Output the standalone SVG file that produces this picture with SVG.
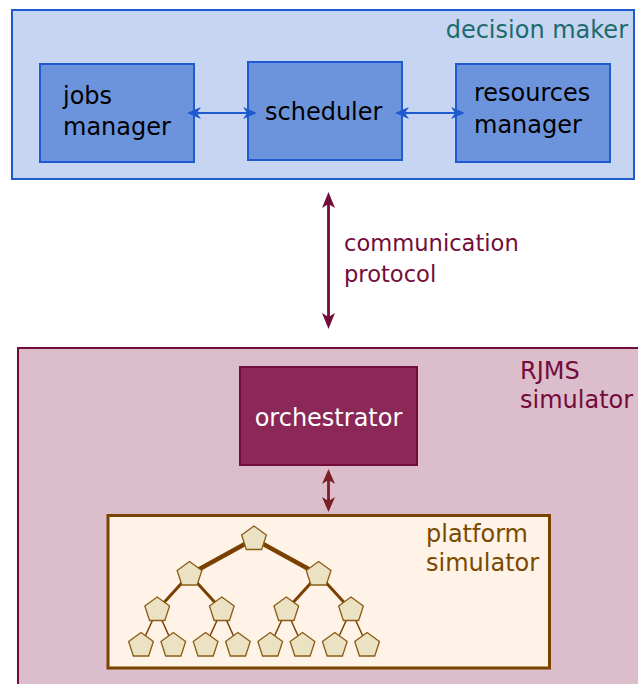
<svg xmlns="http://www.w3.org/2000/svg" width="638" height="684" viewBox="0 0 638 684">
<defs>
<style>
text{font-family:"DejaVu Sans","Noto Sans",sans-serif;font-size:24px}
.blue{fill:#6c94dd;stroke:#1f5bcf;stroke-width:2}
.pent{fill:#ebe2c4;stroke:#8b5c14;stroke-width:1.3}
.edge{stroke:#7a4000;fill:none}
</style>
<marker id="ab" markerUnits="userSpaceOnUse" viewBox="-15 -7 16 14" refX="0" refY="0" markerWidth="16" markerHeight="14" orient="auto-start-reverse"><path d="M0,0 L-14,-6 L-10,0 L-14,6 Z" fill="#1f5bcf"/></marker>
<marker id="ap" markerUnits="userSpaceOnUse" viewBox="-17 -7 18 14" refX="0" refY="0" markerWidth="18" markerHeight="14" orient="auto-start-reverse"><path d="M0,0 L-16,-6.5 L-12,0 L-16,6.5 Z" fill="#730c3b"/></marker>
<marker id="ar" markerUnits="userSpaceOnUse" viewBox="-17 -7 18 14" refX="0" refY="0" markerWidth="18" markerHeight="14" orient="auto-start-reverse"><path d="M0,0 L-15,-6 L-11,0 L-15,6 Z" fill="#7a1f25"/></marker>
<polygon id="pg" points="0,-13 12.36,-4.02 7.64,10.52 -7.64,10.52 -12.36,-4.02"/>
</defs>
<rect width="638" height="684" fill="#ffffff"/>
<g id="decision-maker">
<rect x="12" y="10" width="622" height="169" fill="#c6d5f1" stroke="#1f5bcf" stroke-width="2"/>
<text x="628" y="38" text-anchor="end" fill="#1d6b6e">decision maker</text>
</g>
<g id="jobs-manager">
<rect class="blue" x="40" y="64" width="154" height="98"/>
<text x="63" y="104" fill="#000">jobs</text>
<text x="63" y="135" fill="#000">manager</text>
</g>
<g id="scheduler">
<rect class="blue" x="248" y="62" width="154" height="98"/>
<text x="265" y="120" fill="#000">scheduler</text>
</g>
<g id="resources-manager">
<rect class="blue" x="456" y="64" width="154" height="98"/>
<text x="474" y="101" fill="#000">resources</text>
<text x="474" y="133" fill="#000">manager</text>
</g>
<g id="rjms-simulator">
<rect x="18" y="348" width="625" height="345" fill="#dcbdcc" stroke="#730c3b" stroke-width="2"/>
<text x="520" y="379" fill="#730c3b">RJMS</text>
<text x="520" y="408" fill="#730c3b">simulator</text>
</g>
<g id="orchestrator">
<rect x="240" y="367" width="177" height="98" fill="#8b2858" stroke="#730c3b" stroke-width="2"/>
<text x="328.5" y="426" text-anchor="middle" fill="#ffffff">orchestrator</text>
</g>
<g id="platform-simulator">
<rect x="108" y="515.5" width="441.5" height="152.5" fill="#fff3e8" stroke="#7a4300" stroke-width="3"/>
<text x="426" y="542" fill="#7a4a00">platform</text>
<text x="426" y="571" fill="#7a4a00">simulator</text>
<g id="tree">
<g class="edge">
<path stroke-width="4.5" d="M254,539 L189.5,574.5 M254,539 L318.6,574.5"/>
<path stroke-width="3" d="M189.5,574.5 L157.2,610 M189.5,574.5 L221.8,610 M318.6,574.5 L286.3,610 M318.6,574.5 L351,610"/>
<path stroke-width="1.5" d="M157.2,610 L141,645.5 M157.2,610 L173.3,645.5 M221.8,610 L205.6,645.5 M221.8,610 L237.9,645.5 M286.3,610 L270.2,645.5 M286.3,610 L302.5,645.5 M351,610 L334.8,645.5 M351,610 L367.1,645.5"/>
</g>
<g class="pent">
<use href="#pg" x="254" y="539"/>
<use href="#pg" x="189.5" y="574.5"/>
<use href="#pg" x="318.6" y="574.5"/>
<use href="#pg" x="157.2" y="610"/>
<use href="#pg" x="221.8" y="610"/>
<use href="#pg" x="286.3" y="610"/>
<use href="#pg" x="351" y="610"/>
<use href="#pg" x="141" y="645.5"/>
<use href="#pg" x="173.3" y="645.5"/>
<use href="#pg" x="205.6" y="645.5"/>
<use href="#pg" x="237.9" y="645.5"/>
<use href="#pg" x="270.2" y="645.5"/>
<use href="#pg" x="302.5" y="645.5"/>
<use href="#pg" x="334.8" y="645.5"/>
<use href="#pg" x="367.1" y="645.5"/>
</g>
</g>
</g>
<g id="connectors">
<line x1="196" y1="113" x2="248" y2="113" stroke="#1f5bcf" stroke-width="2.2"/>
<path d="M187,113 L201,107 L197,113 L201,119 Z M257,113 L243,107 L247,113 L243,119 Z" fill="#1f5bcf"/>
<line x1="404" y1="113" x2="456" y2="113" stroke="#1f5bcf" stroke-width="2.2"/>
<path d="M395,113 L409,107 L405,113 L409,119 Z M465,113 L451,107 L455,113 L451,119 Z" fill="#1f5bcf"/>
<line x1="328.5" y1="202" x2="328.5" y2="319" stroke="#730c3b" stroke-width="2.8"/>
<path d="M328.5,192 L322,208 L328.5,204 L335,208 Z M328.5,329 L322,313 L328.5,317 L335,313 Z" fill="#730c3b"/>
<text x="344" y="251" fill="#730c3b" style="font-size:22.6px">communication</text>
<text x="344" y="282" fill="#730c3b" style="font-size:22.6px">protocol</text>
<line x1="328.5" y1="478" x2="328.5" y2="502" stroke="#7a1f25" stroke-width="2.8"/>
<path d="M328.5,469 L322,484 L328.5,480 L335,484 Z M328.5,512 L322,497 L328.5,501 L335,497 Z" fill="#7a1f25"/>
</g>
</svg>
